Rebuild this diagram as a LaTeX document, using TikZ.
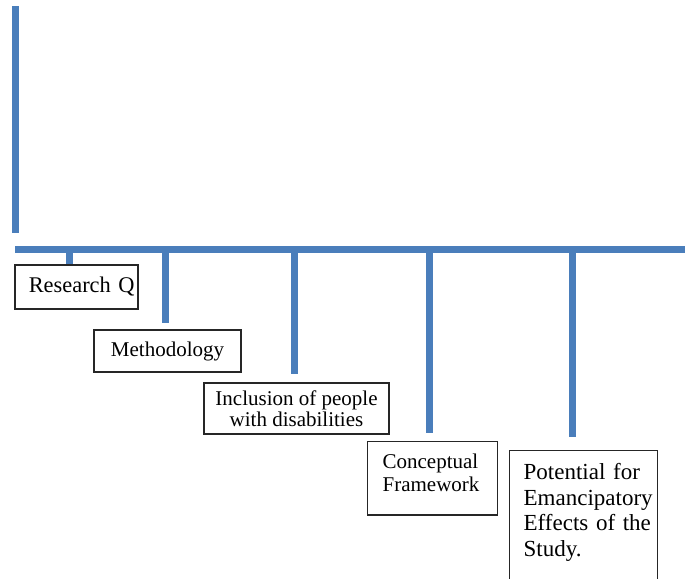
\documentclass[tikz,border=0pt]{standalone}
\usepackage{fontspec}
\setmainfont{Liberation Serif}
\definecolor{barblue}{RGB}{74,126,187}
\tikzset{
  bar/.style={line width=3.5pt, draw=barblue},
  topic/.style={draw=black!85, line width=0.65pt, inner sep=0pt, font=\fontsize{10.5}{11.5}\selectfont},
}
\begin{document}
\begin{tikzpicture}[x=0.5pt,y=-0.5pt]
\clip (0,0) rectangle (685,578);
\fill[white] (0,0) rectangle (685,578);
% bars
\coordinate (top) at (15.5,6);
\coordinate (foot) at (15.5,233);
\draw[bar] (top) -- (foot);
\coordinate (start) at (15,249.5);
\coordinate (end) at (690,249.5);
\draw[bar] (start) -- (end);
% boxes
\node[topic, minimum height=22pt, text width=58pt, align=right, inner xsep=1.75pt, font=\fontsize{11.2}{12}\selectfont] (rq) at (76.5,287) {Research Q};
\node[topic, minimum width=73.5pt, minimum height=21pt] (meth) at (167.5,351) {Methodology};
\node[topic, minimum width=92.5pt, minimum height=25.5pt, align=center, font=\fontsize{10.5}{10.75}\selectfont] (incl) at (296.5,408.5) {Inclusion of people\\with disabilities};
\node[topic, anchor=north west, text width=50pt, inner xsep=7.5pt, inner ysep=6pt, text depth=17.4pt, align=left] (conc) at (367,441) {\mbox{Conceptual}\\\mbox{Framework}};
\node[topic, anchor=north west, text width=60pt, inner xsep=7pt, inner ysep=6.5pt, text depth=70pt, align=left, font=\fontsize{11.5}{12.75}\selectfont] (pot) at (509,450) {\mbox{Potential for}\\\mbox{Emancipatory}\\\mbox{Effects of the}\\\mbox{Study.}};
% ticks
\coordinate (t1) at (69,249.5);
\coordinate (t2) at (165.5,249.5);
\coordinate (t3) at (294,249.5);
\coordinate (t4) at (429,249.5);
\coordinate (t5) at (572,249.5);
\draw[bar] (t1) -- (t1 |- rq.north);
\draw[bar] (t2) -- ([yshift=3pt]t2 |- meth.north);
\draw[bar] (t3) -- ([yshift=4pt]t3 |- incl.north);
\draw[bar] (t4) -- ([yshift=4pt]t4 |- conc.north);
\draw[bar] (t5) -- ([yshift=6.5pt]t5 |- pot.north);
\end{tikzpicture}
\end{document}
